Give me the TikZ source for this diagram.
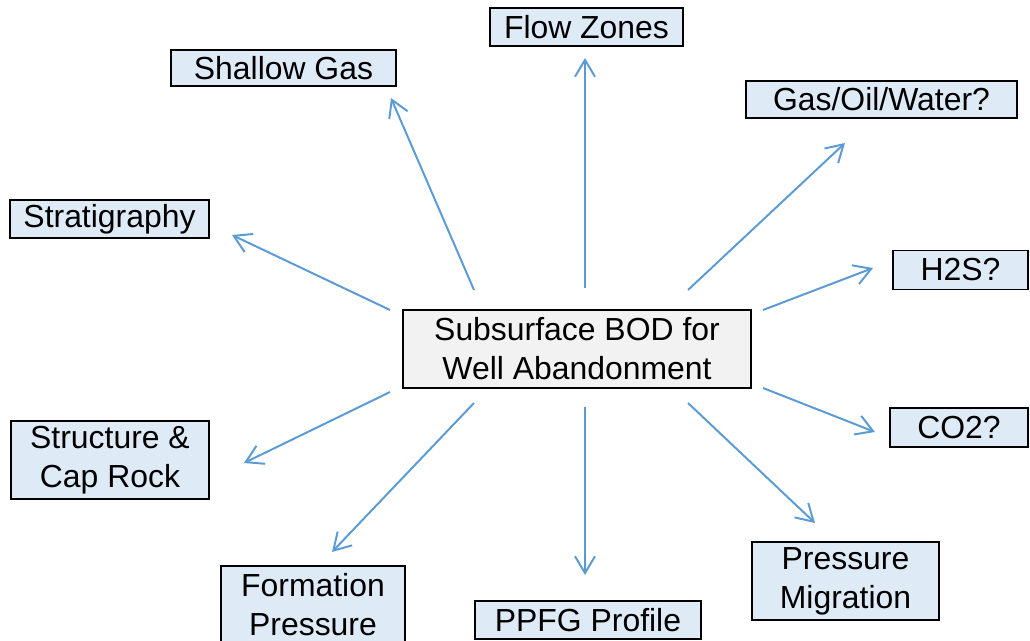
\documentclass[tikz,border=0pt]{standalone}
\usepackage{fontspec}
\setmainfont{Liberation Sans}
\usepackage{xcolor}
\usetikzlibrary{arrows.meta}
\definecolor{arrblue}{RGB}{91,155,213}
\definecolor{boxblue}{RGB}{222,235,247}
\definecolor{hubgray}{RGB}{242,242,242}
\tikzset{
    box/.style={draw=black, line width=1.1pt, fill=boxblue, inner sep=0pt, align=center,
        font=\fontsize{22.7}{27.7}\selectfont},
    hub/.style={box, fill=hubgray},
    arr/.style={draw=arrblue, line width=1.4pt, -{Straight Barb[length=4.2mm, width=5mm, line width=1.4pt]}}
}

\begin{document}
\begin{tikzpicture}[x=0.25mm, y=-0.25mm]
        \useasboundingbox (0,0) rectangle (1030,641);
        \node [hub, minimum width=87mm, minimum height=19.5mm] (bod) at (577,349) {Subsurface BOD for\\Well Abandonment};
        \node [box, minimum width=48.25mm, minimum height=9.5mm] (flow) at (586.5,27) {Flow Zones};
        \node [box, minimum width=56.25mm, minimum height=9mm] (shallow) at (283.5,68) {Shallow Gas};
        \node [box, minimum width=67.75mm, minimum height=9.25mm] (gow) at (881.5,99.5) {Gas/Oil/Water?};
        \node [box, minimum width=49.75mm, minimum height=9.5mm] (strat) at (109.5,219) {Stratigraphy};
        \node [box, minimum width=33.75mm, minimum height=9.75mm] (hts) at (960.5,270) {H2S?};
        \node [box, minimum width=34.5mm, minimum height=9.75mm] (co) at (959,427.5) {CO2?};
        \node [box, minimum width=49.5mm, minimum height=19.5mm] (struct) at (110,460) {Structure \&\\Cap Rock};
        \node [box, minimum width=46mm, minimum height=19.5mm] (form) at (313,605) {Formation\\Pressure};
        \node [box, minimum width=56.5mm, minimum height=9.5mm] (ppfg) at (588,620) {PPFG Profile};
        \node [box, minimum width=46.75mm, minimum height=19.5mm] (migr) at (845.5,581) {Pressure\\Migration};
        % arrow ends
        \coordinate (s-flow) at (585,288);    \coordinate (e-flow) at (585,58);
        \coordinate (s-shallow) at (474,290); \coordinate (e-shallow) at (391,98);
        \coordinate (s-gow) at (688,290);     \coordinate (e-gow) at (845,143);
        \coordinate (s-strat) at (390,310);   \coordinate (e-strat) at (232,235);
        \coordinate (s-hts) at (763,310);     \coordinate (e-hts) at (873,268);
        \coordinate (s-co) at (763,388);      \coordinate (e-co) at (875,432);
        \coordinate (s-struct) at (390,392);  \coordinate (e-struct) at (244,463);
        \coordinate (s-form) at (474,403);    \coordinate (e-form) at (332,552);
        \coordinate (s-ppfg) at (585,407);    \coordinate (e-ppfg) at (585,575);
        \coordinate (s-migr) at (688,403);    \coordinate (e-migr) at (815,523);
        \foreach \n in {flow,shallow,gow,strat,hts,co,struct,form,ppfg,migr}
            \draw [arr] (s-\n) -- (e-\n);
    \end{tikzpicture}
\end{document}
